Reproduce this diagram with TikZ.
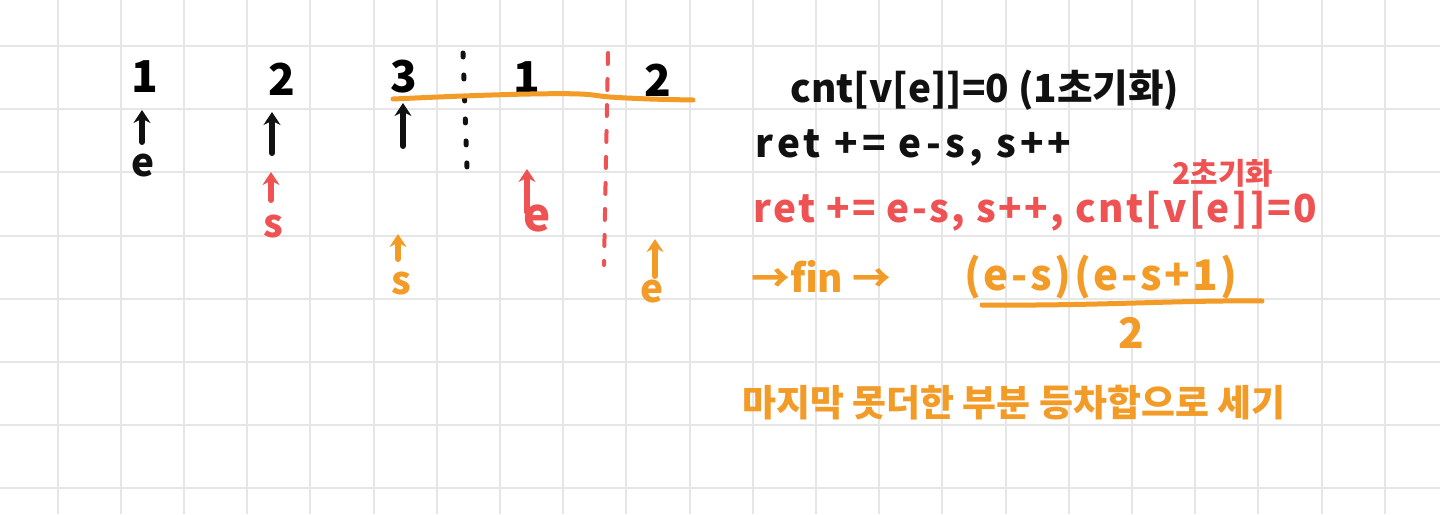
\documentclass[tikz,border=0pt]{standalone}
\usepackage{fontspec}
\setmainfont{Noto Sans CJK KR}
\usetikzlibrary{arrows.meta,positioning}
\definecolor{inkblack}{HTML}{111111}
\definecolor{inkred}{HTML}{EE5252}
\definecolor{inkorange}{HTML}{F39B27}
\definecolor{gridgray}{HTML}{E6E6E6}

\begin{document}
\begin{tikzpicture}[x=0.02cm,y=-0.02cm,
gridline/.style={gridgray,line width=0.04cm},
num/.style={inner sep=0pt,font=\fontsize{25}{25}\selectfont\bfseries},
ptr/.style={inner sep=0pt,font=\fontsize{22}{22}\selectfont\bfseries},
note/.style={anchor=west,inner sep=0pt,font=\fontsize{22}{22}\selectfont\bfseries},
arr/.style={-{Stealth[length=2.6mm,width=3.4mm]},line width=0.12cm,line cap=round},
pen/.style={line width=0.1cm,line cap=round}]
% paper
\fill[white] (0,0) rectangle (1440,514);
\useasboundingbox (0,0) rectangle (1440,514);
\foreach \i in {0,...,21} \draw[gridline] ({57.5+63.2*\i},0) -- ({57.5+63.2*\i},514);
\foreach \j in {0,...,7} \draw[gridline] (0,{46+63.2*\j}) -- (1440,{46+63.2*\j});

% array
\node[num] (n1) at (145,77) {1};
\node[num] (n2) at (282,79) {2};
\node[num] (n3) at (404,77) {3};
\node[num] (n4) at (527,78) {1};
\node[num] (n5) at (658,80) {2};
\draw[inkblack,pen,dash pattern=on 0.08cm off 0.36cm] (463,53) -- (467,168);
\draw[inkred,pen,line width=0.08cm,dash pattern=on 0.22cm off 0.3cm] (608,53) -- (604,265);
\draw[inkorange,pen] plot[smooth,tension=0.6] coordinates {(393,99) (463,96) (530,94) (580,94) (610,97) (650,99) (693,100)};

% pointers
\node[ptr,inkblack] (eA) at (143,165) {e};
\node[ptr,inkred] (sB) at (273,226) {s};
\node[ptr,inkred,font=\fontsize{26}{26}\selectfont\bfseries] (eB) at (537,218) {e};
\node[ptr,inkorange] (sC) at (401,283) {s};
\node[ptr,inkorange] (eC) at (652,291) {e};
\coordinate (a1t) at (142,142); \coordinate (a1h) at (142,110);
\coordinate (a2t) at (272,153); \coordinate (a2h) at (272,112);
\coordinate (a3t) at (403,146); \coordinate (a3h) at (403,103);
\coordinate (b1t) at (271,200); \coordinate (b1h) at (271,172);
\coordinate (b2t) at (527,212); \coordinate (b2h) at (527,169);
\coordinate (c1t) at (398,259); \coordinate (c1h) at (398,234);
\coordinate (c2t) at (655,276); \coordinate (c2h) at (655,239);
\draw[arr,inkblack] (a1t) -- (a1h);
\draw[arr,inkblack] (a2t) -- (a2h);
\draw[arr,inkblack] (a3t) -- (a3h);
\draw[arr,inkred] (b1t) -- (b1h);
\draw[arr,inkred] (b2t) -- (b2h);
\draw[arr,inkorange] (c1t) -- (c1h);
\draw[arr,inkorange] (c2t) -- (c2h);

% notes
\node[note,inkblack] (cnt1) at (790,90) {cnt[v[e]]=0 (1초기화)};
\node[note,inkblack,font=\fontsize{22}{22}\selectfont\bfseries\addfontfeature{LetterSpace=11}] (ret1) at (755,148) {ret += e-s, s++};
\node[inkred,inner sep=0pt,font=\fontsize{17}{17}\selectfont\bfseries] (init2) at (1223,173) {2초기화};
\node[note,inkred,font=\fontsize{22}{22}\selectfont\bfseries\addfontfeature{LetterSpace=6}] (ret2) at (753,211) {ret += e-s, s++, cnt[v[e]]=0};
\node[note,inkorange] (fin) at (751,276) {→fin →};
\node[inkorange,inner sep=0pt,font=\fontsize{24}{24}\selectfont\bfseries\addfontfeature{LetterSpace=6}] (numer) at (1101,277) {(e-s)(e-s+1)};
\draw[inkorange,pen] (982,305) .. controls (1100,306) and (1180,300) .. (1262,301);
\node[inkorange,inner sep=0pt,font=\fontsize{24}{24}\selectfont\bfseries] (denom) at (1131,333) {2};
\node[note,inkorange,font=\fontsize{21}{21}\selectfont\bfseries] (memo) at (742,403) {마지막 못더한 부분 등차합으로 세기};
\end{tikzpicture}
\end{document}
